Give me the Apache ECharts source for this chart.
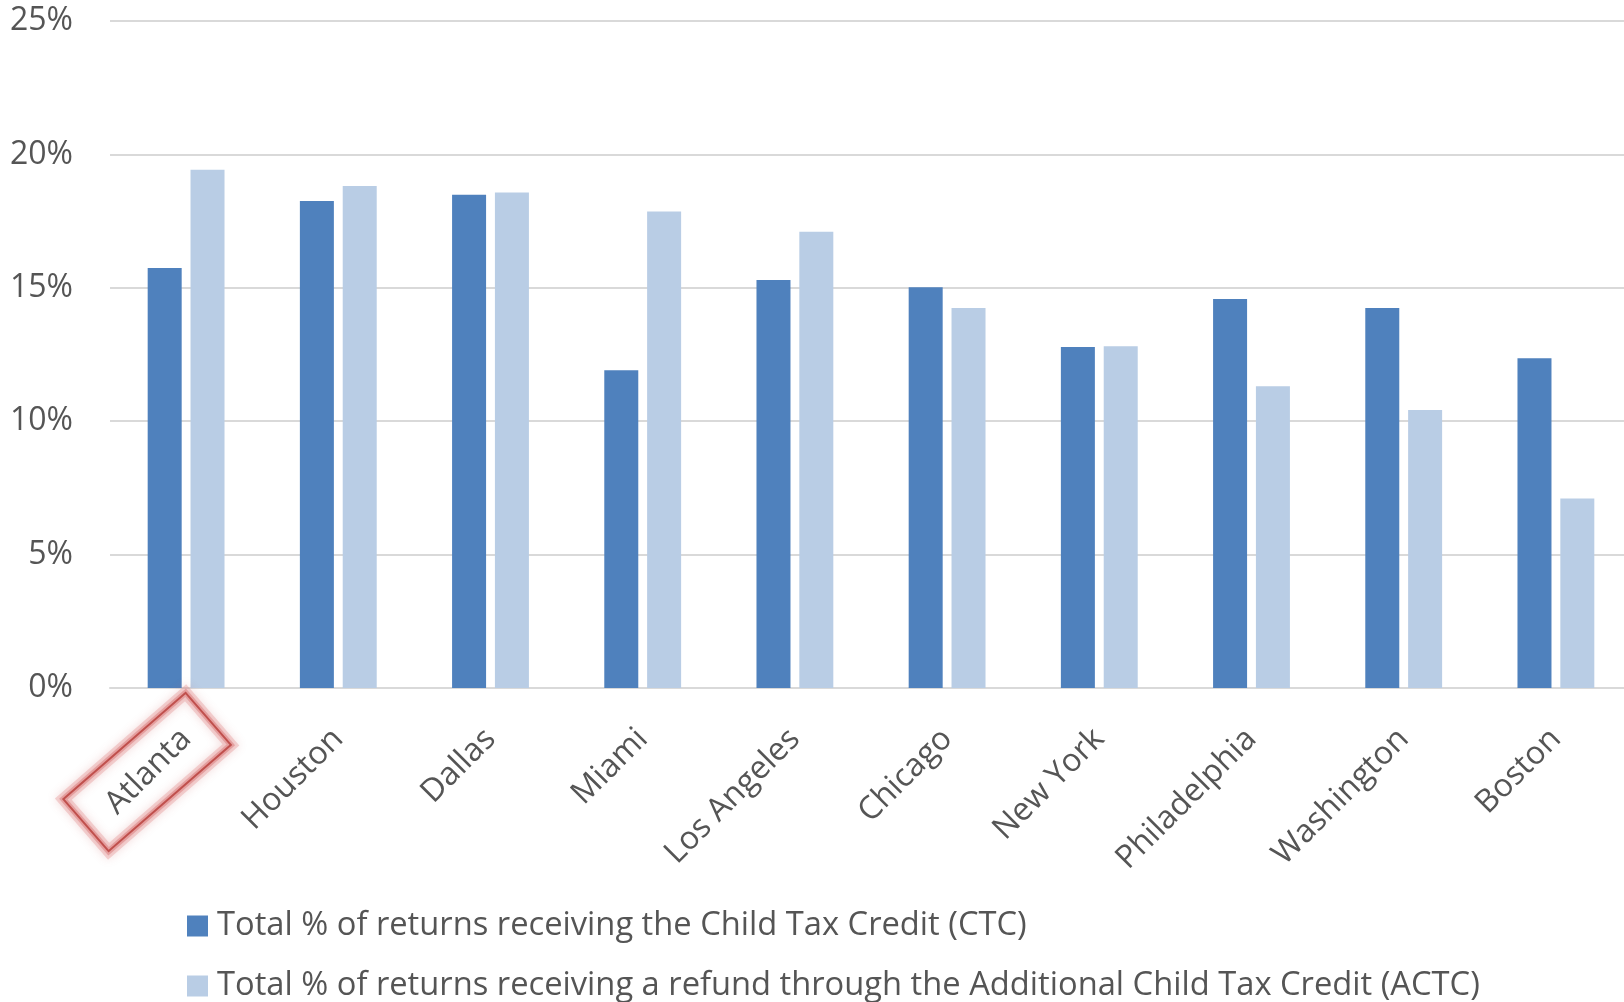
<!DOCTYPE html>
<html>
<head>
<meta charset="utf-8">
<script src="https://cdn.jsdelivr.net/npm/echarts@6/dist/echarts.min.js"></script>
<style>
html,body{margin:0;padding:0;background:#fff;overflow:hidden;width:1624px;height:1002px;}
#chart{width:1640px;height:1002px;}
</style>
</head>
<body>
<div id="chart"></div>
<script>
const categories = ['Atlanta','Houston','Dallas','Miami','Los Angeles','Chicago','New York','Philadelphia','Washington','Boston'];
const ctcValues = [15.74,18.25,18.49,11.91,15.29,15.02,12.78,14.58,14.24,12.36];
const actcValues = [19.42,18.82,18.57,17.86,17.10,14.24,12.81,11.31,10.42,7.10];
const seriesNames = ['Total % of returns receiving the Child Tax Credit (CTC)',
  'Total % of returns receiving a refund through the Additional Child Tax Credit (ACTC)'];
const yMin = 0, yMax = 25, yStep = 5;

const textColor = '#555555';
const font = 'Open Sans';
const chart = echarts.init(document.getElementById('chart'));
chart.setOption({
  animation: false,
  textStyle: {fontFamily: font},
  grid: {left: 110, top: 21, width: 1522, height: 667, containLabel: false},
  legend: {
    orient: 'vertical', left: 187, top: 907, width: 1400, height: 140, padding: 0,
    itemWidth: 21, itemHeight: 21, itemGap: 22, icon: 'rect',
    textStyle: {fontFamily: font, fontSize: 32.7, lineHeight: 38, color: textColor, padding: [0,0,0,4]},
    data: seriesNames
  },
  xAxis: {
    type: 'category', data: categories,
    axisLine: {show: true, lineStyle: {color: '#D9D9D9', width: 2}},
    axisTick: {show: false},
    axisLabel: {rotate: 45, margin: 46, fontFamily: font, fontSize: 32, color: textColor, interval: 0}
  },
  yAxis: {
    type: 'value', min: yMin, max: yMax, interval: yStep,
    axisLine: {show: false}, axisTick: {show: false},
    splitLine: {lineStyle: {color: '#D9D9D9', width: 2}},
    axisLabel: {formatter: '{value}%', margin: 37, fontFamily: font, fontSize: 32, color: textColor}
  },
  series: [
    {name: seriesNames[0], type: 'bar', data: ctcValues, barWidth: 34, barGap: '26%',
     itemStyle: {color: '#4F81BD'}},
    {name: seriesNames[1], type: 'bar', data: actcValues, barWidth: 34, barGap: '26%',
     itemStyle: {color: '#B9CDE5'}}
  ]
});
const p = chart.convertToPixel({gridIndex: 0}, [0, 0]);
const cx = p[0] - 39, cy = p[1] + 84, rot = 41 * Math.PI / 180;
const boxShape = {x: -81, y: -34.5, width: 162, height: 69};
chart.setOption({
  graphic: [
    {type: 'rect', x: cx, y: cy, rotation: rot, shape: boxShape, z: 98, silent: true,
     style: {fill: 'none', stroke: 'rgba(225,140,140,0.35)', lineWidth: 12, shadowBlur: 10, shadowColor: 'rgba(200,90,90,0.6)'}},
    {type: 'rect', x: cx, y: cy, rotation: rot, shape: boxShape, z: 99, silent: true,
     style: {fill: 'none', stroke: 'rgba(215,110,110,0.45)', lineWidth: 6}},
    {type: 'rect', x: cx, y: cy, rotation: rot, shape: boxShape, z: 100, silent: true,
     style: {fill: 'none', stroke: '#C0504D', lineWidth: 2}}
  ]
});
</script>
</body>
</html>
